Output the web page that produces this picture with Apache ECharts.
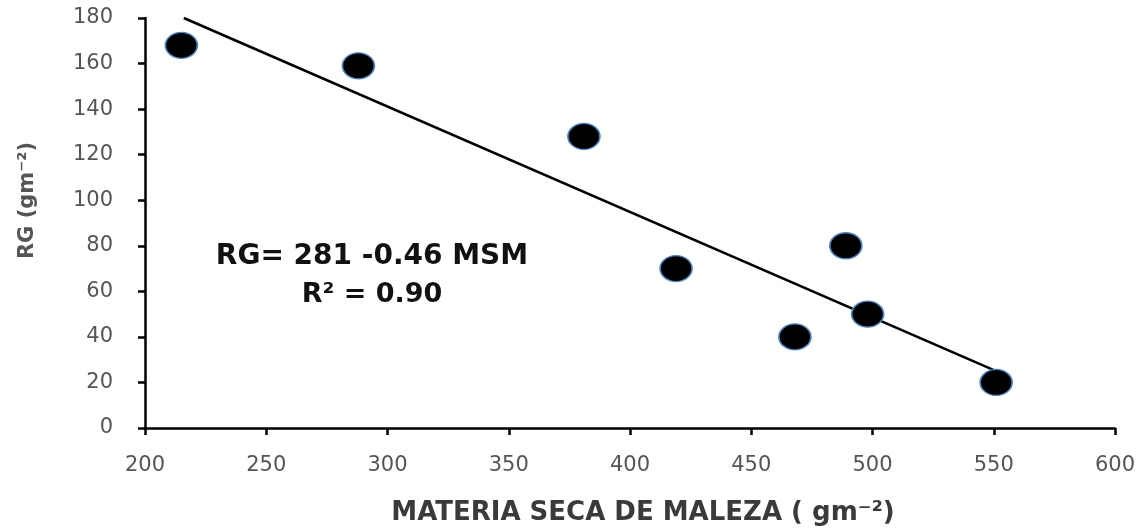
<!DOCTYPE html>
<html>
<head>
<meta charset="utf-8">
<script src="https://cdn.jsdelivr.net/npm/echarts@6/dist/echarts.min.js"></script>
<style>
  html, body { margin: 0; padding: 0; background: #fff; }
  #chart { width: 1146px; height: 529px; }
</style>
</head>
<body>
<div id="chart"></div>
<script>
// observed points: weed dry matter (x) vs RG (y)
const msm = [215, 288, 381, 419, 468, 489, 498, 551];
const rg = [168, 159, 128, 70, 40, 80, 50, 20];
// fitted line end points
const trendX = [216, 551];
const trendY = [180, 25];
const xTicks = { min: 200, max: 600, step: 50 };
const yTicks = { min: 0, max: 180, step: 20 };

const points = msm.map((v, i) => [v, rg[i]]);
const trend = trendX.map((v, i) => [v, trendY[i]]);

const font = '"DejaVu Sans", sans-serif';
const chart = echarts.init(document.getElementById("chart"));

chart.setOption({
  animation: false,
  backgroundColor: "#fff",
  grid: { left: 145, right: 31, top: 18, bottom: 101, outerBoundsMode: "none", containLabel: false },
  xAxis: {
    type: "value",
    min: xTicks.min, max: xTicks.max, interval: xTicks.step,
    name: "MATERIA SECA DE MALEZA ( gm⁻²)",
    nameLocation: "middle",
    nameGap: 72,
    nameTextStyle: { fontFamily: font, fontSize: 26, fontWeight: "bold", color: "#3a3a3a", padding: [0, 0, 0, 26] },
    axisLine: { lineStyle: { color: "#000", width: 2.5 } },
    axisTick: { inside: false, length: 7, lineStyle: { color: "#000", width: 2.5 } },
    axisLabel: { margin: 27, fontFamily: font, fontSize: 21, color: "#555" },
    splitLine: { show: false }
  },
  yAxis: {
    type: "value",
    min: yTicks.min, max: yTicks.max, interval: yTicks.step,
    name: "RG (gm⁻²)",
    nameLocation: "middle",
    nameGap: 107,
    nameTextStyle: { fontFamily: font, fontSize: 21, fontWeight: "bold", color: "#555", padding: [0, 0, 0, 45] },
    axisLine: { show: true, lineStyle: { color: "#000", width: 2.5 } },
    axisTick: { show: true, inside: false, length: 7, lineStyle: { color: "#000", width: 2.5 } },
    axisLabel: { margin: 32, fontFamily: font, fontSize: 21, color: "#555" },
    splitLine: { show: false }
  },
  graphic: [
    {
      type: "text", x: 372, y: 257,
      style: { text: "RG= 281 -0.46 MSM", fontFamily: font, fontSize: 28, fontWeight: "bold", fill: "#111", textAlign: "center", textVerticalAlign: "middle" }
    },
    {
      type: "text", x: 372, y: 295,
      style: { text: "R² = 0.90", fontFamily: font, fontSize: 27, fontWeight: "bold", fill: "#111", textAlign: "center", textVerticalAlign: "middle" }
    }
  ],
  series: [
    {
      type: "line",
      data: trend,
      symbol: "none",
      lineStyle: { color: "#000", width: 2.5 },
      z: 2
    },
    {
      type: "scatter",
      data: points,
      symbol: "circle",
      symbolSize: [32, 26],
      itemStyle: { color: "#000", opacity: 1, borderColor: "#4f86c6", borderWidth: 1.5 },
      z: 3
    }
  ]
});
</script>
</body>
</html>
